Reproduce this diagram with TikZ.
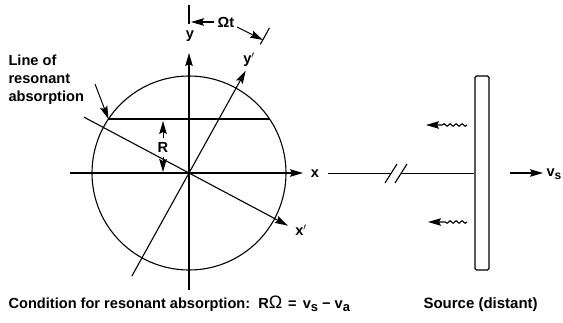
\documentclass[tikz,border=0pt]{standalone}
\usepackage{fontspec}
\setmainfont{Liberation Sans}
\usetikzlibrary{arrows.meta,decorations.pathmorphing}
\begin{document}
\begin{tikzpicture}[x=1pt,y=-1pt,line width=1.1pt,
  lbl/.style={font=\fontsize{14.6}{17}\selectfont\bfseries,inner sep=0pt},
  tip/.style={-{Stealth[length=13pt,width=7.5pt,inset=2pt]}},
  wavy/.style={tip,decorate,decoration={snake,amplitude=1.3pt,segment length=6pt,post length=15pt}}]
\useasboundingbox (0,0) rectangle (563,322);
% centre and axis end points
\coordinate (O) at (189,173);
\coordinate (yb) at (189,290);
\coordinate (yt) at (189,53);
\coordinate (yk1) at (189,5);
\coordinate (yk2) at (189,24);
\coordinate (xl) at (70,173);
\coordinate (xr) at (303,173);
\coordinate (xpb) at (83.9,117.1);
\coordinate (xpt) at (287.9,225.6);
\coordinate (ypb) at (131.8,276.2);
\coordinate (ypt) at (245.7,70.7);
\coordinate (ypk1) at (260.3,44.4);
\coordinate (ypk2) at (269.5,27.8);
\coordinate (chl) at (108.4,119);
\coordinate (chr) at (269.6,119);
% circle
\draw (O) circle[radius=97];
% axes
\draw[tip] (yb) -- (yt);
\draw (yk1) -- (yk2);
\draw[tip] (xl) -- (xr);
\draw[tip] (xpb) -- (xpt);
\draw[tip] (ypb) -- (ypt);
\draw (ypk1) -- (ypk2);
% chord
\draw (chl) -- (chr);
% labels
\node[lbl] (ly) at (190,36) {y};
\node[lbl] (lyp) at (249,60) {y$'$};
\node[lbl] (lx) at (315,174) {x};
\node[lbl] (lxp) at (301,230) {x$'$};
\node[lbl] (lR) at (163,147) {R};
\node[lbl] (lOt) at (226,22) {Ωt};
% Omega t arrows
\coordinate (ot0) at (214,22);
\coordinate (ot1) at (191,22);
\coordinate (otb) at (237,27);
\coordinate (ote) at (263,40);
\draw[tip] (ot0) -- (ot1);
\draw[tip] (otb) -- (ote);
% R arrows
\coordinate (r0) at (163,138);
\coordinate (r1) at (163,121);
\coordinate (r3) at (163,157);
\coordinate (r2) at (163,172);
\draw[tip,line width=1pt] (r0) -- (r1);
\draw[tip,line width=1pt] (r3) -- (r2);
% line of resonant absorption label
\node[lbl,anchor=base west] (t1) at (8,65) {Line of};
\node[lbl,anchor=base west] (t2) at (8,83) {resonant};
\node[lbl,anchor=base west] (t3) at (8,101) {absorption};
\coordinate (pt0) at (95,84);
\draw[tip,line width=1pt] (pt0) -- (chl);
% distant source
\node[draw,line width=1.2pt,rounded corners=1.5pt,minimum width=14pt,minimum height=194pt,inner sep=0pt] (src) at (482,173) {};
\coordinate (b1) at (328,173);
\coordinate (b2) at (391,173);
\coordinate (b3) at (401,173);
\draw[line width=0.9pt] (b1) -- (b2);
\draw[line width=0.9pt] (b3) -- (src.west);
\coordinate (s1a) at (385,183); \coordinate (s1b) at (397,164);
\coordinate (s2a) at (395,183); \coordinate (s2b) at (407,164);
\draw (s1a) -- (s1b);
\draw (s2a) -- (s2b);
\coordinate (w1a) at (467,125); \coordinate (w1b) at (426,125);
\coordinate (w2a) at (467,222); \coordinate (w2b) at (428,222);
\draw[wavy] (w1a) -- (w1b);
\draw[wavy] (w2a) -- (w2b);
\coordinate (v1) at (510,173); \coordinate (v2) at (543,173);
\draw[tip] (v1) -- (v2);
\node[lbl,anchor=west] (lvs) at (546,174) {v\raisebox{-3pt}{\fontsize{12}{12}\selectfont s}};
% bottom texts
\node[lbl,anchor=base west,font=\fontsize{14.6}{17}\selectfont\bfseries] (cond) at (8,308) {Condition for resonant absorption:\kern8pt R{\fontsize{18}{18}\selectfont\mdseries Ω}\kern6pt=\kern6pt v\raisebox{-3.5pt}{\fontsize{13}{13}\selectfont s}\kern4pt−\kern4pt v\raisebox{-3.5pt}{\fontsize{13}{13}\selectfont a}};
\node[lbl,anchor=base west,font=\fontsize{15}{17}\selectfont\bfseries] (srcl) at (423,308) {Source (distant)};
\end{tikzpicture}
\end{document}
